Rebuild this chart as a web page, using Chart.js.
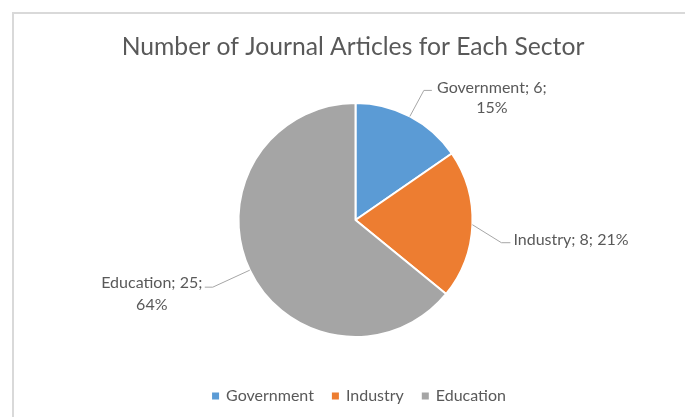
<!DOCTYPE html>
<html>
<head>
<meta charset="utf-8">
<script src="https://cdn.jsdelivr.net/npm/chart.js@4.4.0/dist/chart.umd.min.js"></script>
<style>
  html, body { margin: 0; padding: 0; background: #fff; }
  #wrap { width: 685px; height: 417px; position: relative; }
</style>
</head>
<body>
<div id="wrap"><canvas id="c" width="685" height="417"></canvas></div>
<script>
const chartTitle = "Number of Journal Articles for Each Sector";
const categories = ["Government", "Industry", "Education"];
const values = [6, 8, 25];
const percentLabels = ["15%", "21%", "64%"];
const colors = ["#5B9BD5", "#ED7D31", "#A5A5A5"];

const FONT = "Lato, 'Open Sans', sans-serif";
const TXT = "#595959";

const deco = {
  id: 'deco',
  beforeDraw(chart) {
    const ctx = chart.ctx;
    ctx.save();
    ctx.strokeStyle = '#d9d9d9';
    ctx.lineWidth = 2;
    ctx.strokeRect(13, 13, 720, 460);
    ctx.restore();
  },
  afterDraw(chart) {
    const ctx = chart.ctx;
    const meta = chart.getDatasetMeta(0);
    ctx.save();
    // title
    ctx.fillStyle = TXT;
    ctx.font = "24.7px " + FONT;
    ctx.textAlign = 'center';
    ctx.textBaseline = 'middle';
    ctx.fillText(chartTitle, 353, 47);

    // data labels with leader lines
    const specs = [
      { elbow: [14, -26], end: [22, -26], lines: [categories[0] + "; " + values[0] + ";", percentLabels[0]], align: 'center', tx: 82, ty: -29, lh: 20 },
      { elbow: [29, 18], end: [38, 18], lines: [categories[1] + "; " + values[1] + "; " + percentLabels[1]], align: 'left', tx: 41, ty: 15, lh: 20 },
      { elbow: [-37, 17], end: [-45, 17], lines: [categories[2] + "; " + values[2] + ";", percentLabels[2]], align: 'center', tx: -98, ty: 13, lh: 22 }
    ];
    ctx.font = "16px " + FONT;
    meta.data.forEach((arc, i) => {
      const s = specs[i];
      const mid = (arc.startAngle + arc.endAngle) / 2;
      const px = arc.x + Math.cos(mid) * arc.outerRadius;
      const py = arc.y + Math.sin(mid) * arc.outerRadius;
      ctx.strokeStyle = '#a6a6a6';
      ctx.lineWidth = 1;
      ctx.beginPath();
      ctx.moveTo(px, py);
      ctx.lineTo(px + s.elbow[0], py + s.elbow[1]);
      ctx.lineTo(px + s.end[0], py + s.end[1]);
      ctx.stroke();
      ctx.fillStyle = TXT;
      ctx.textAlign = s.align;
      ctx.textBaseline = 'middle';
      s.lines.forEach((ln, k) => {
        ctx.fillText(ln, px + s.tx, py + s.ty + k * s.lh);
      });
    });

    // legend
    ctx.font = "16px " + FONT;
    ctx.textAlign = 'left';
    ctx.textBaseline = 'middle';
    const box = 7, gap = 7, itemGap = 18;
    let total = 0;
    const widths = categories.map(c => ctx.measureText(c).width);
    widths.forEach((w, i) => { total += box + gap + w + (i < widths.length - 1 ? itemGap : 0); });
    let x = 359 - total / 2;
    const ly = 396;
    categories.forEach((c, i) => {
      ctx.fillStyle = colors[i];
      ctx.fillRect(x, ly - 3.5, box, box);
      ctx.fillStyle = TXT;
      ctx.fillText(c, x + box + gap, ly);
      x += box + gap + widths[i] + itemGap;
    });
    ctx.restore();
  }
};

new Chart(document.getElementById('c'), {
  type: 'pie',
  data: {
    labels: categories,
    datasets: [{
      data: values,
      backgroundColor: colors,
      borderColor: '#ffffff',
      borderWidth: 2
    }]
  },
  options: {
    responsive: false,
    animation: false,
    events: [],
    layout: { padding: { left: 237, right: 211, top: 102, bottom: 79 } },
    plugins: {
      legend: { display: false },
      title: { display: false },
      tooltip: { enabled: false }
    }
  },
  plugins: [deco]
});
</script>
</body>
</html>
